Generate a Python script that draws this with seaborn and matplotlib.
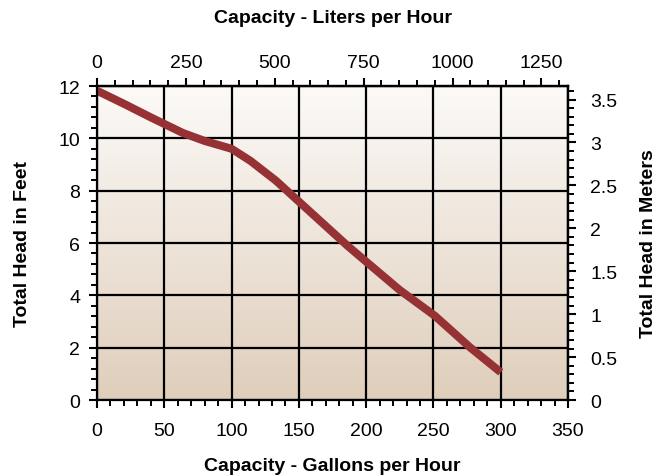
import numpy as np
import pandas as pd
import matplotlib
matplotlib.use("Agg")
import matplotlib.pyplot as plt
from matplotlib.colors import LinearSegmentedColormap
from matplotlib.ticker import MultipleLocator
import seaborn as sns

# Pump performance curve: flow (US gallons per hour) vs. total head (feet)
gallons_per_hour = [0, 20, 40, 64, 80, 100, 114, 133, 152, 186, 202, 225, 251, 277, 300]
head_feet = [11.82, 11.32, 10.8, 10.2, 9.9, 9.6, 9.14, 8.38, 7.49, 5.9, 5.2, 4.2, 3.22, 2.02, 1.06]

bottom_ticks = [0, 50, 100, 150, 200, 250, 300, 350]
left_ticks = [0, 2, 4, 6, 8, 10, 12]
top_ticks = [0, 250, 500, 750, 1000, 1250]
right_ticks = [0, 0.5, 1, 1.5, 2, 2.5, 3, 3.5]
right_labels = ["0", "0.5", "1", "1.5", "2", "2.5", "3", "3.5"]

LITERS_PER_GALLON = 3.78541
METERS_PER_FOOT = 0.3048

sns.set_theme(style="ticks")
plt.rcParams["font.family"] = ["Liberation Sans", "DejaVu Sans"]
plt.rcParams.update({
    "axes.edgecolor": "black",
    "text.color": "black",
    "axes.labelcolor": "black",
    "xtick.color": "black",
    "ytick.color": "black",
    "xtick.labelcolor": "black",
    "ytick.labelcolor": "black",
})

df = pd.DataFrame({"gph": gallons_per_hour, "feet": head_feet})

fig = plt.figure(figsize=(6.7, 4.77), dpi=100)
ax = fig.add_axes([0.1448, 0.1593, 0.8478 - 0.1448, 0.8176 - 0.1593])

# Vertical cream-to-tan gradient background (light at top)
cmap = LinearSegmentedColormap.from_list("bg", ["#fcfaf8", "#dfcebb"])
grad = np.linspace(0, 1, 256).reshape(-1, 1)
ax.imshow(grad, cmap=cmap, aspect="auto", extent=[0, 350, 0, 12],
          origin="upper", zorder=0)

sns.lineplot(data=df, x="gph", y="feet", ax=ax, color="#963234",
             linewidth=5.8, zorder=3, solid_capstyle="butt",
             solid_joinstyle="round")

ax.set_xlim(0, 350)
ax.set_ylim(0, 12)
ax.set_xticks(bottom_ticks)
ax.set_yticks(left_ticks)
ax.xaxis.set_minor_locator(MultipleLocator(10))
ax.yaxis.set_minor_locator(MultipleLocator(0.4))
ax.grid(True, which="major", color="black", linewidth=1.6)
for line in ax.get_xgridlines() + ax.get_ygridlines():
    line.set_zorder(1)

for s in ax.spines.values():
    s.set_linewidth(1.6)
    s.set_zorder(4)

TICK_FS = 14
LABEL_FS = 14

ax.tick_params(which="major", direction="out", length=6, width=1.5,
               labelsize=TICK_FS, colors="black")
ax.tick_params(which="minor", direction="out", length=4, width=1.4)
ax.tick_params(axis="x", which="major", pad=10)
ax.tick_params(axis="y", which="major", pad=6)

ax.set_xlabel("Capacity - Gallons per Hour", fontsize=LABEL_FS, fontweight="bold")
ax.set_ylabel("Total Head in Feet", fontsize=LABEL_FS, fontweight="bold")
ax.xaxis.set_label_coords(0.5, -0.207)
ax.xaxis.label.set_va("center")
ax.yaxis.set_label_coords(-0.159, 0.5)
ax.yaxis.label.set_va("center")

# Metric equivalents on the opposite axes
top = ax.secondary_xaxis("top", functions=(lambda g: g * LITERS_PER_GALLON,
                                           lambda l: l / LITERS_PER_GALLON))
top.set_xticks(top_ticks)
top.xaxis.set_minor_locator(MultipleLocator(50))
top.tick_params(which="major", direction="out", length=6, width=1.5,
                labelsize=TICK_FS, pad=5, colors="black")
top.tick_params(which="minor", direction="out", length=4, width=1.4,
                colors="black")
top.set_xlabel("Capacity - Liters per Hour", fontsize=LABEL_FS,
               fontweight="bold", color="black")
top.xaxis.set_label_coords(0.5, 1.2197, transform=ax.transAxes)
top.xaxis.label.set_va("center")
top.spines["top"].set_linewidth(1.6)

right = ax.secondary_yaxis("right", functions=(lambda f: f * METERS_PER_FOOT,
                                               lambda m: m / METERS_PER_FOOT))
right.set_yticks(right_ticks)
right.set_yticklabels(right_labels)
right.yaxis.set_minor_locator(MultipleLocator(0.1))
right.tick_params(which="major", direction="out", length=6, width=1.5,
                  labelsize=TICK_FS, pad=10, colors="black")
right.tick_params(which="minor", direction="out", length=4, width=1.4,
                  colors="black")
right.set_ylabel("Total Head in Meters", fontsize=LABEL_FS,
                 fontweight="bold", color="black")
right.yaxis.set_label_coords(1.170, 0.5, transform=ax.transAxes)
right.yaxis.label.set_va("center")
right.spines["right"].set_linewidth(1.6)

fig.savefig("out.png", dpi=100)
